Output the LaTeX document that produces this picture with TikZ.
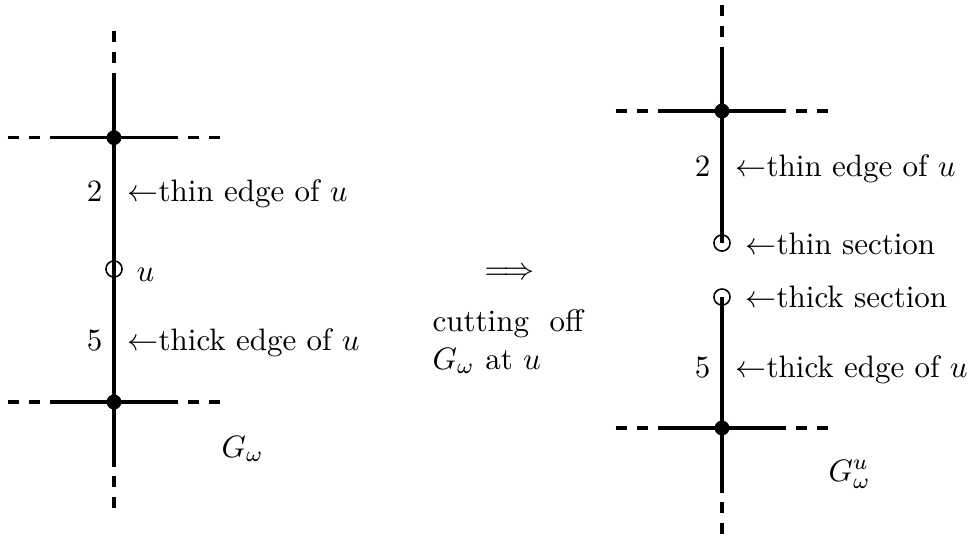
\documentclass[tikz,border=0pt]{standalone}
\begin{document}
\begin{tikzpicture}[x=0.3226pt,y=-0.3226pt,
  solidline/.style={line width=1pt},
  dashline/.style={line width=1pt,dash pattern=on 3.55pt off 3.23pt},
  fillv/.style={circle,fill=black,inner sep=0pt,minimum size=4.8pt},
  openv/.style={circle,draw=black,line width=0.5pt,inner sep=0pt,minimum size=5.2pt},
  lab/.style={inner sep=0pt,anchor=base west},
  labr/.style={inner sep=0pt,anchor=base east}]
\useasboundingbox (0,0) rectangle (971,535);
% ---------- left graph ----------
\node[fillv] (A) at (114,137.7) {};
\node[openv] (U) at (114,269) {};
\node[fillv] (B) at (114,402) {};
\coordinate (lt) at (114,31);
\coordinate (lts) at (114,74);
\coordinate (lbs) at (114,467);
\coordinate (lb) at (114,508);
\coordinate (al) at (8,137.7);
\coordinate (als) at (50,137.7);
\coordinate (ars) at (178,137.7);
\coordinate (ar) at (220,137.7);
\coordinate (bl) at (8,402);
\coordinate (bls) at (50,402);
\coordinate (brs) at (178,402);
\coordinate (br) at (220,402);
\draw[dashline] (lt) -- (lts);
\draw[solidline] (lts) -- (A.center) -- (U.center) -- (B.center) -- (lbs);
\draw[dashline] (lb) -- (lbs);
\draw[dashline] (al) -- (als);
\draw[solidline] (als) -- (ars);
\draw[dashline] (ar) -- (ars);
\draw[dashline] (bl) -- (bls);
\draw[solidline] (bls) -- (brs);
\draw[dashline] (br) -- (brs);
\node[labr] (l2) at (103,201.5) {2};
\node[lab] (lthin) at (127,201.5) {$\leftarrow$thin edge of $u$};
\node[lab] (lu) at (136,281.6) {$u$};
\node[labr] (l5) at (103,350) {5};
\node[lab] (lthick) at (127,350) {$\leftarrow$thick edge of $u$};
\node[lab] (lG) at (221,457) {$G_\omega$};
% ---------- middle ----------
\node[inner sep=0pt] (impl) at (509.5,273.5) {$\Longrightarrow$};
\node[lab] (cut) at (432,331.7) {cutting~~off};
\node[lab] (cut2) at (432,369) {$G_\omega$ at $u$};
% ---------- right graph ----------
\node[fillv] (C) at (722,111) {};
\node[openv] (T) at (722,243) {};
\node[openv] (K) at (722,297) {};
\node[fillv] (D) at (722,428) {};
\coordinate (rt) at (722,5);
\coordinate (rts) at (722,47);
\coordinate (rbs) at (722,493);
\coordinate (rb) at (722,534);
\coordinate (cl) at (616,111);
\coordinate (cls) at (658,111);
\coordinate (crs) at (786,111);
\coordinate (cr) at (828,111);
\coordinate (dl) at (616,428);
\coordinate (dls) at (658,428);
\coordinate (drs) at (786,428);
\coordinate (dr) at (828,428);
\draw[dashline] (rt) -- (rts);
\draw[solidline] (rts) -- (C.center) -- (T.center);
\draw[solidline] (K.center) -- (D.center) -- (rbs);
\draw[dashline] (rb) -- (rbs);
\draw[dashline] (cl) -- (cls);
\draw[solidline] (cls) -- (crs);
\draw[dashline] (cr) -- (crs);
\draw[dashline] (dl) -- (dls);
\draw[solidline] (dls) -- (drs);
\draw[dashline] (dr) -- (drs);
\node[labr] (r2) at (711,176) {2};
\node[lab] (rthin) at (735,176) {$\leftarrow$thin edge of $u$};
\node[lab] (rts1) at (745,254) {$\leftarrow$thin section};
\node[lab] (rks) at (745,307) {$\leftarrow$thick section};
\node[labr] (r5) at (711,377) {5};
\node[lab] (rthick) at (735,377) {$\leftarrow$thick edge of $u$};
\node[lab] (rG) at (828,481) {$G^u_\omega$};
\end{tikzpicture}
\end{document}
